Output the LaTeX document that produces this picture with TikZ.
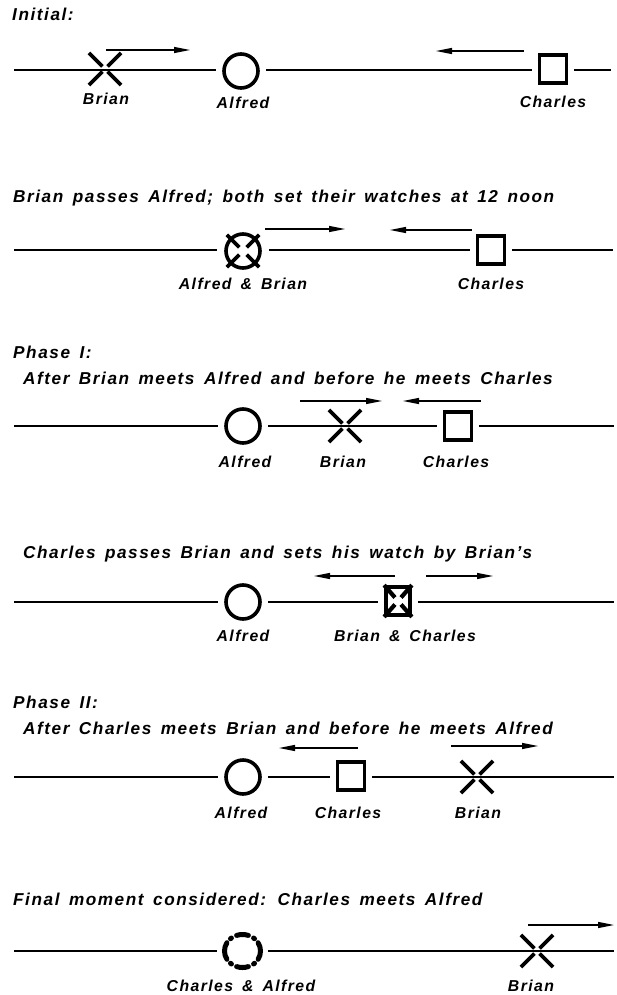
\documentclass[tikz,border=0pt]{standalone}
\usepackage{fontspec}
\setmainfont{Liberation Sans}[LetterSpace=9, WordSpace=1.5]
\usetikzlibrary{arrows.meta,calc,shapes.geometric}
\newcommand\amp{\hspace{9pt}\&\hspace{9pt}}
\newcommand\brianx[1]{\foreach \ang in {45,135,225,315}{\draw[xarm] ($(#1)!0.16!(#1.\ang)$) -- (#1.\ang);}}
\newcommand\alfbri[1]{\foreach \ang in {45,135,225,315}{\draw[xarm] ($(#1)!0.28!(#1.\ang)$) -- ($(#1)!1.22!(#1.\ang)$);}}
\newcommand\bricha[1]{\foreach \cor in {north east,north west,south east,south west}{\draw[bcarm] ($(#1)!0.22!(#1.\cor)$) -- (#1.\cor);}}
\newcommand\chaalf[1]{%
  \foreach \sa/\ea in {71/109,251/289,-30/30,150/210,48/52,128/132,228/232,308/312}{%
    \draw[ring] ($(#1)+(\sa:18pt and 16.5pt)$) arc[start angle=\sa, end angle=\ea, x radius=18pt, y radius=16.5pt];}}
\begin{document}
\begin{tikzpicture}[x=1pt,y=-1pt,
  ttl/.style={font=\bfseries\itshape\fontsize{17.2}{20}\selectfont, anchor=base west, inner sep=0pt},
  lbl/.style={font=\bfseries\itshape\fontsize{15.8}{18}\selectfont, anchor=base, inner sep=0pt},
  axis/.style={line width=1.6pt},
  mv/.style={line width=1.2pt, -{Triangle[length=16pt,width=6pt]}},
  xarm/.style={line width=3.6pt},
  bcarm/.style={line width=4.2pt},
  ring/.style={line width=5pt, line cap=round},
  alfnode/.style={ellipse, draw, line width=3.6pt, inner sep=0pt, minimum width=34pt, minimum height=34pt},
  chanode/.style={rectangle, draw, line width=3.4pt, inner sep=0pt, minimum width=27pt, minimum height=28pt},
  brinode/.style={circle, inner sep=0pt, minimum size=45pt},
  bcnode/.style={rectangle, draw, line width=3.8pt, inner sep=0pt, minimum width=24pt, minimum height=28pt},
  canode/.style={ellipse, inner sep=0pt, minimum width=36pt, minimum height=33pt}]
\useasboundingbox (0,0) rectangle (617,995);

% ---------- Panel 1 ----------
\node[ttl] (t1) at (12,21) {Initial:};
\coordinate (l1) at (14,70); \coordinate (r1) at (611,70);
\node[brinode] (b1) at (105,69) {};
\node[alfnode] (a1) at (241,71) {};
\node[chanode] (c1) at (553,69) {};
\brianx{b1}
\draw[axis] (l1) -- ([xshift=-6pt]a1.west |- l1);
\draw[axis] ([xshift=6pt]a1.east |- l1) -- ([xshift=-6pt]c1.west |- l1);
\draw[axis] ([xshift=6pt]c1.east |- l1) -- (r1);
\coordinate (m1a) at (106,50); \coordinate (m1b) at (190,50);
\coordinate (m1c) at (524,51); \coordinate (m1d) at (436,51);
\draw[mv] (m1a) -- (m1b);
\draw[mv] (m1c) -- (m1d);
\node[lbl] (lb1) at (106,105) {Brian};
\node[lbl] (la1) at (243,109) {Alfred};
\node[lbl] (lc1) at (553,108) {Charles};

% ---------- Panel 2 ----------
\node[ttl] (t2) at (13,202) {Brian passes Alfred; both set their watches at 12 noon};
\coordinate (l2) at (14,250); \coordinate (r2) at (613,250);
\node[alfnode] (ab2) at (243,251) {};
\alfbri{ab2}
\node[chanode] (c2) at (491,250) {};
\draw[axis] (l2) -- ([xshift=-7pt]ab2.west |- l2);
\draw[axis] ([xshift=7pt]ab2.east |- l2) -- ([xshift=-6pt]c2.west |- l2);
\draw[axis] ([xshift=6pt]c2.east |- l2) -- (r2);
\coordinate (m2a) at (265,229); \coordinate (m2b) at (345,229);
\coordinate (m2c) at (472,230); \coordinate (m2d) at (390,230);
\draw[mv] (m2a) -- (m2b);
\draw[mv] (m2c) -- (m2d);
\node[lbl] (lab2) at (243,289) {Alfred\amp Brian};
\node[lbl] (lc2) at (491,289) {Charles};

% ---------- Panel 3 ----------
\node[ttl] (t3) at (13,358) {Phase I:};
\node[ttl] (t3b) at (23,384) {After Brian meets Alfred and before he meets Charles};
\coordinate (l3) at (14,426); \coordinate (r3) at (614,426);
\node[alfnode] (a3) at (243,426) {};
\node[brinode] (b3) at (345,426) {};
\node[chanode] (c3) at (458,426) {};
\brianx{b3}
\draw[axis] (l3) -- ([xshift=-6pt]a3.west);
\draw[axis] ([xshift=6pt]a3.east) -- ([xshift=-6pt]c3.west);
\draw[axis] ([xshift=6pt]c3.east) -- (r3);
\coordinate (m3a) at (300,401); \coordinate (m3b) at (382,401);
\coordinate (m3c) at (481,401); \coordinate (m3d) at (403,401);
\draw[mv] (m3a) -- (m3b);
\draw[mv] (m3c) -- (m3d);
\node[lbl] (la3) at (245,467) {Alfred};
\node[lbl] (lb3) at (343,467) {Brian};
\node[lbl] (lc3) at (456,467) {Charles};

% ---------- Panel 4 ----------
\node[ttl] (t4) at (23,558) {Charles passes Brian and sets his watch by Brian's};
\coordinate (l4) at (14,602); \coordinate (r4) at (614,602);
\node[alfnode] (a4) at (243,602) {};
\node[bcnode] (bc4) at (398,601) {};
\bricha{bc4}
\draw[axis] (l4) -- ([xshift=-6pt]a4.west |- l4);
\draw[axis] ([xshift=6pt]a4.east |- l4) -- ([xshift=-6pt]bc4.west |- l4);
\draw[axis] ([xshift=6pt]bc4.east |- l4) -- (r4);
\coordinate (m4a) at (395,576); \coordinate (m4b) at (314,576);
\coordinate (m4c) at (426,576); \coordinate (m4d) at (493,576);
\draw[mv] (m4a) -- (m4b);
\draw[mv] (m4c) -- (m4d);
\node[lbl] (la4) at (243,641) {Alfred};
\node[lbl] (lbc4) at (405,641) {Brian\amp Charles};

% ---------- Panel 5 ----------
\node[ttl] (t5) at (13,708) {Phase II:};
\node[ttl] (t5b) at (23,734) {After Charles meets Brian and before he meets Alfred};
\coordinate (l5) at (14,777); \coordinate (r5) at (614,777);
\node[alfnode] (a5) at (243,777) {};
\node[chanode] (c5) at (351,776) {};
\node[brinode] (b5) at (477,777) {};
\brianx{b5}
\draw[axis] (l5) -- ([xshift=-6pt]a5.west |- l5);
\draw[axis] ([xshift=6pt]a5.east |- l5) -- ([xshift=-6pt]c5.west |- l5);
\draw[axis] ([xshift=6pt]c5.east |- l5) -- (r5);
\coordinate (m5a) at (358,748); \coordinate (m5b) at (279,748);
\coordinate (m5c) at (451,746); \coordinate (m5d) at (538,746);
\draw[mv] (m5a) -- (m5b);
\draw[mv] (m5c) -- (m5d);
\node[lbl] (la5) at (241,818) {Alfred};
\node[lbl] (lc5) at (348,818) {Charles};
\node[lbl] (lb5) at (478,818) {Brian};

% ---------- Panel 6 ----------
\node[ttl] (t6) at (13,905) {Final moment considered: Charles meets Alfred};
\coordinate (l6) at (14,951); \coordinate (r6) at (614,951);
\node[canode] (ca6) at (242.5,951) {};
\chaalf{ca6}
\node[brinode] (b6) at (537,951) {};
\brianx{b6}
\draw[axis] (l6) -- ([xshift=-7pt]ca6.west);
\draw[axis] ([xshift=7pt]ca6.east) -- (r6);
\coordinate (m6a) at (528,925); \coordinate (m6b) at (614,925);
\draw[mv] (m6a) -- (m6b);
\node[lbl] (lca6) at (241,991) {Charles\amp Alfred};
\node[lbl] (lb6) at (531,991) {Brian};
\end{tikzpicture}
\end{document}
